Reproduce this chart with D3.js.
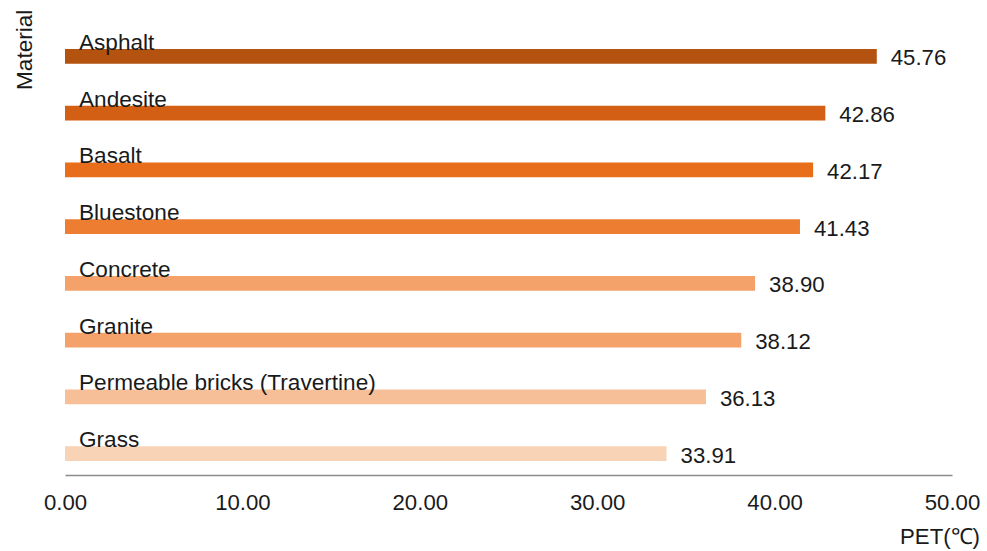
<!DOCTYPE html>
<html>
<head>
<meta charset="utf-8">
<script src="https://cdn.jsdelivr.net/npm/d3@7"></script>
<style>
  body { margin: 0; background: #fff; }
  text { font-family: "Liberation Sans", Arial, sans-serif; fill: #1a1a1a; }
</style>
</head>
<body>
<div id="container"></div>
<script>
/*
    Chart data
*/
var materials = ["Asphalt", "Andesite", "Basalt", "Bluestone", "Concrete", "Granite",
                 "Permeable bricks (Travertine)", "Grass"];
var petValues = [45.76, 42.86, 42.17, 41.43, 38.90, 38.12, 36.13, 33.91];
var barColors = ["#B4520F", "#D35F15", "#E86E1C", "#ED7D31", "#F4A26A", "#F4A26A",
                 "#F7BF97", "#F9D3B6"];
var xTicks = [0, 10, 20, 30, 40, 50];

var width = 987, height = 551;

var svg = d3.select("#container").append("svg")
    .attr("width", width)
    .attr("height", height);

var x = d3.scaleLinear().domain([0, 50]).range([65, 952]);
var y = d3.scaleBand().domain(materials).range([28, 482]).paddingInner(0.74).paddingOuter(0.37);

/*
    Bars
*/
svg.selectAll(".bar")
    .data(materials)
    .enter().append("rect")
    .attr("class", "bar")
    .attr("x", x(0))
    .attr("y", function (d) { return y(d); })
    .attr("width", function (d, i) { return x(petValues[i]) - x(0); })
    .attr("height", y.bandwidth())
    .style("fill", function (d, i) { return barColors[i]; });

/*
    Category labels sit on top of each bar
*/
svg.selectAll(".cat")
    .data(materials)
    .enter().append("text")
    .attr("class", "cat")
    .attr("x", 79)
    .attr("y", function (d) { return y(d) + 1; })
    .style("font-size", "22.6px")
    .text(function (d) { return d; });

/*
    Value labels
*/
svg.selectAll(".val")
    .data(materials)
    .enter().append("text")
    .attr("class", "val")
    .attr("x", function (d, i) { return x(petValues[i]) + 14; })
    .attr("y", function (d) { return y(d) + y.bandwidth() / 2 + 9; })
    .style("font-size", "22.2px")
    .text(function (d, i) { return petValues[i].toFixed(2); });

/*
    X axis
*/
var xAxis = d3.axisBottom(x)
    .tickValues(xTicks)
    .tickSize(0)
    .tickPadding(19)
    .tickFormat(function (d) { return d.toFixed(2); });

var ax = svg.append("g")
    .attr("transform", "translate(0,475)")
    .call(xAxis);
ax.select(".domain").attr("stroke", "#8c8c8c").attr("stroke-width", 1.5);
ax.selectAll("text")
    .style("font-size", "22.2px")
    .style("font-family", "Liberation Sans, Arial, sans-serif")
    .attr("fill", "#1a1a1a");

svg.append("text")
    .attr("x", 980)
    .attr("y", 544)
    .attr("text-anchor", "end")
    .style("font-size", "22.2px")
    .text("PET(℃)");

svg.append("text")
    .attr("transform", "translate(32,90) rotate(-90)")
    .style("font-size", "22.6px")
    .text("Material");
</script>
</body>
</html>
